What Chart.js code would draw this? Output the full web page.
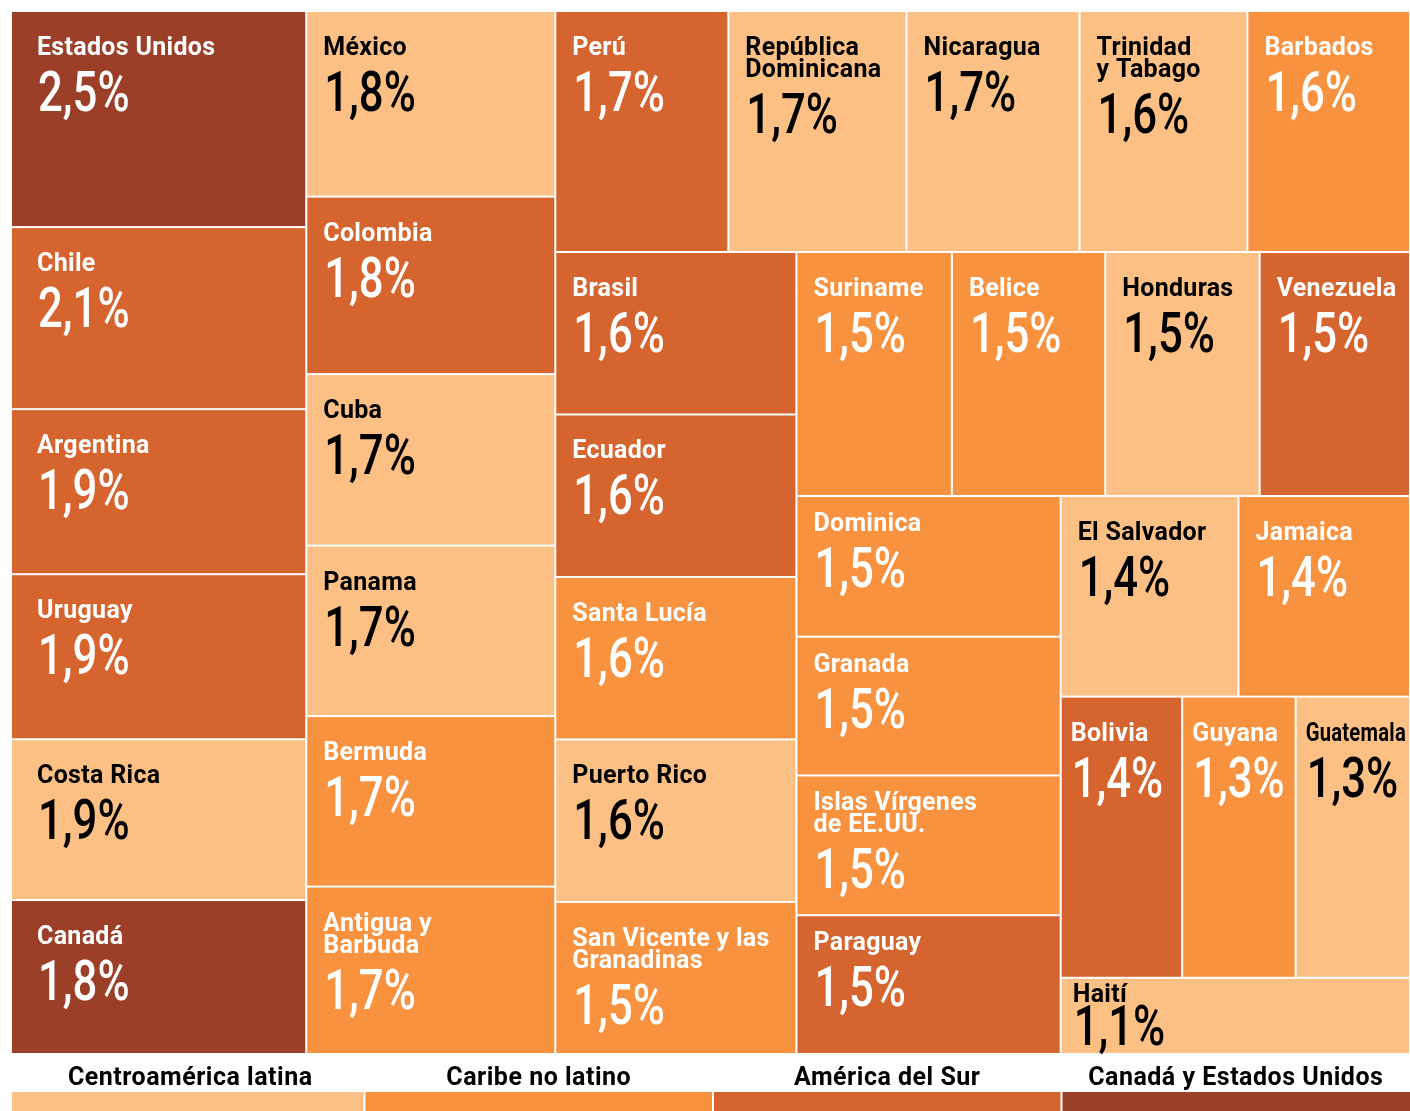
<!DOCTYPE html>
<html>
<head>
<meta charset="utf-8">
<script src="https://cdn.jsdelivr.net/npm/chart.js@4.4.1/dist/chart.umd.min.js"></script>
<style>
  html, body { margin: 0; padding: 0; background: #fff; }
  #wrap { width: 1410px; height: 1111px; }
</style>
</head>
<body>
<div id="wrap"><canvas id="treemapChart"></canvas></div>
<script>
// countries in layout order (largest first)
const countries = [
  'Estados Unidos', 'Chile', 'Argentina', 'Uruguay', 'Costa Rica', 'Canadá',
  'México', 'Colombia', 'Cuba', 'Panama', 'Bermuda', 'Antigua y\nBarbuda',
  'Perú', 'República\nDominicana', 'Nicaragua', 'Trinidad\ny Tabago', 'Barbados',
  'Brasil', 'Ecuador', 'Santa Lucía', 'Puerto Rico', 'San Vicente y las\nGranadinas',
  'Suriname', 'Belice', 'Honduras', 'Venezuela',
  'Dominica', 'Granada', 'Islas Vírgenes\nde EE.UU.', 'Paraguay',
  'El Salvador', 'Jamaica', 'Bolivia', 'Guyana', 'Guatemala', 'Haití'
];

// share in % (labels show one decimal)
const shares = [
  2.54, 2.14, 1.94, 1.94, 1.89, 1.81,
  1.84, 1.76, 1.70, 1.69, 1.69, 1.66,
  1.66, 1.71, 1.66, 1.61, 1.56,
  1.56, 1.56, 1.56, 1.56, 1.46,
  1.51, 1.49, 1.50, 1.46,
  1.48, 1.46, 1.47, 1.46,
  1.42, 1.37, 1.36, 1.27, 1.28, 1.06
];

// 0 Centroamérica latina, 1 Caribe no latino, 2 América del Sur, 3 Canadá y EE.UU.
const regionOf = [
  3, 2, 2, 2, 0, 3,
  0, 2, 0, 0, 1, 1,
  2, 0, 0, 0, 1,
  2, 2, 1, 0, 1,
  1, 1, 0, 2,
  1, 1, 1, 2,
  0, 1, 2, 1, 0, 0
];

const regions = ['Centroamérica latina', 'Caribe no latino', 'América del Sur', 'Canadá y Estados Unidos'];
const regionColors = ['#fcc085', '#f8923f', '#d6642f', '#9b3f28'];
const regionText = ['#000000', '#ffffff', '#ffffff', '#ffffff'];

// treemap extent in scale units
const W = 1399, H = 1043;

// squarified layout (same rule as d3.treemapSquarify, golden ratio target)
function squarify(values, x0, y0, x1, y1) {
  const phi = (1 + Math.sqrt(5)) / 2;
  const cells = [];
  const n = values.length;
  let i0 = 0, i1 = 0;
  let value = values.reduce((a, b) => a + b, 0);
  while (i0 < n) {
    const dx = x1 - x0, dy = y1 - y0;
    let sumValue = values[i1++];
    let minValue = sumValue, maxValue = sumValue;
    const alpha = Math.max(dy / dx, dx / dy) / (value * phi);
    let beta = sumValue * sumValue * alpha;
    let minRatio = Math.max(maxValue / beta, beta / minValue);
    for (; i1 < n; ++i1) {
      const v = values[i1];
      sumValue += v;
      if (v < minValue) minValue = v;
      if (v > maxValue) maxValue = v;
      beta = sumValue * sumValue * alpha;
      const newRatio = Math.max(maxValue / beta, beta / minValue);
      if (newRatio > minRatio) { sumValue -= v; break; }
      minRatio = newRatio;
    }
    if (dx < dy) {
      // row across the top
      const h = dy * sumValue / value;
      let x = x0;
      for (let i = i0; i < i1; i++) {
        const w = dx * values[i] / sumValue;
        cells[i] = { x0: x, y0: y0, x1: x + w, y1: y0 + h };
        x += w;
      }
      y0 += h;
    } else {
      // column down the left
      const w = dx * sumValue / value;
      let y = y0;
      for (let i = i0; i < i1; i++) {
        const h = dy * values[i] / sumValue;
        cells[i] = { x0: x0, y0: y, x1: x0 + w, y1: y + h };
        y += h;
      }
      x0 += w;
    }
    value -= sumValue;
    i0 = i1;
  }
  return cells;
}

const cells = squarify(shares, 0, 0, W, H);

const fmt = v => (Math.round(v * 10) / 10).toFixed(1).replace('.', ',') + '%';

// draw the cells through the chart scales
const treemapPlugin = {
  id: 'treemapCells',
  afterDatasetsDraw(chart) {
    const { ctx, scales: { x, y } } = chart;
    cells.forEach((c, i) => {
      const left = x.getPixelForValue(c.x0) + 1;
      const right = x.getPixelForValue(c.x1) - 1;
      const top = y.getPixelForValue(c.y0) + 1;
      const bottom = y.getPixelForValue(c.y1) - 1;
      const w = right - left, h = bottom - top;
      const r = regionOf[i];

      ctx.save();
      ctx.fillStyle = regionColors[r];
      ctx.fillRect(left, top, w, h);

      ctx.fillStyle = regionText[r];
      ctx.textAlign = 'left';
      ctx.textBaseline = 'alphabetic';
      let pad = w > 280 ? 25 : (w < 130 ? 9 : 16);
      if (h < 100) pad = 11;
      const tx = left + pad;
      const ty = h < 100 ? top + 23 : (h < 150 ? top + 34 : top + 43);
      const lines = countries[i].split('\n');
      ctx.font = 'bold 25px Roboto';
      ctx.letterSpacing = '0.3px';
      lines.forEach((ln, k) => {
        const room = right - tx - 3;
        const tw = ctx.measureText(ln).width;
        const sx = tw > room ? room / tw : 1;
        ctx.save();
        ctx.translate(tx, ty + k * 22);
        ctx.scale(sx, 1);
        ctx.fillText(ln, 0, 0);
        ctx.restore();
      });
      ctx.letterSpacing = '0px';
      const last = ty + (lines.length - 1) * 22;
      const vy = last + (h < 100 ? 43 : 56);

      ctx.translate(tx + 1, vy);
      ctx.scale(0.78, 1);
      ctx.font = '500 56px Roboto';
      ctx.fillText(fmt(shares[i]), 0, 0);
      ctx.restore();
    });
  }
};

// region key under the treemap
const keyPlugin = {
  id: 'regionKey',
  afterDraw(chart) {
    const { ctx, chartArea } = chart;
    const start = chartArea.left + 5, right = chartArea.right;
    const seg = (right - start) / regions.length;
    ctx.save();
    regions.forEach((name, k) => {
      const x0 = k ? start + k * seg + 1 : chartArea.left + 1;
      const x1 = start + (k + 1) * seg - (k < regions.length - 1 ? 1 : 0);
      ctx.fillStyle = regionColors[k];
      ctx.fillRect(x0, 1092, x1 - x0, 19);
      ctx.fillStyle = '#000';
      ctx.font = 'bold 25px Roboto';
      ctx.letterSpacing = '0.5px';
      ctx.textAlign = 'center';
      ctx.textBaseline = 'alphabetic';
      ctx.fillText(name, start + k * seg + seg / 2, 1085);
    });
    ctx.restore();
  }
};

const treemapChart = new Chart(document.getElementById('treemapChart'), {
  type: 'scatter',
  data: {
    datasets: [{
      label: 'Participación',
      data: cells.map(c => ({ x: (c.x0 + c.x1) / 2, y: (c.y0 + c.y1) / 2 })),
      pointRadius: 0
    }]
  },
  options: {
    responsive: true,
    maintainAspectRatio: false,
    animation: false,
    layout: { padding: { left: 11, top: 11, right: 0, bottom: 57 } },
    scales: {
      x: { type: 'linear', min: 0, max: W, display: false },
      y: { type: 'linear', min: 0, max: H, reverse: true, display: false }
    },
    plugins: {
      legend: { display: false },
      tooltip: { enabled: false }
    }
  },
  plugins: [treemapPlugin, keyPlugin]
});
</script>
</body>
</html>
